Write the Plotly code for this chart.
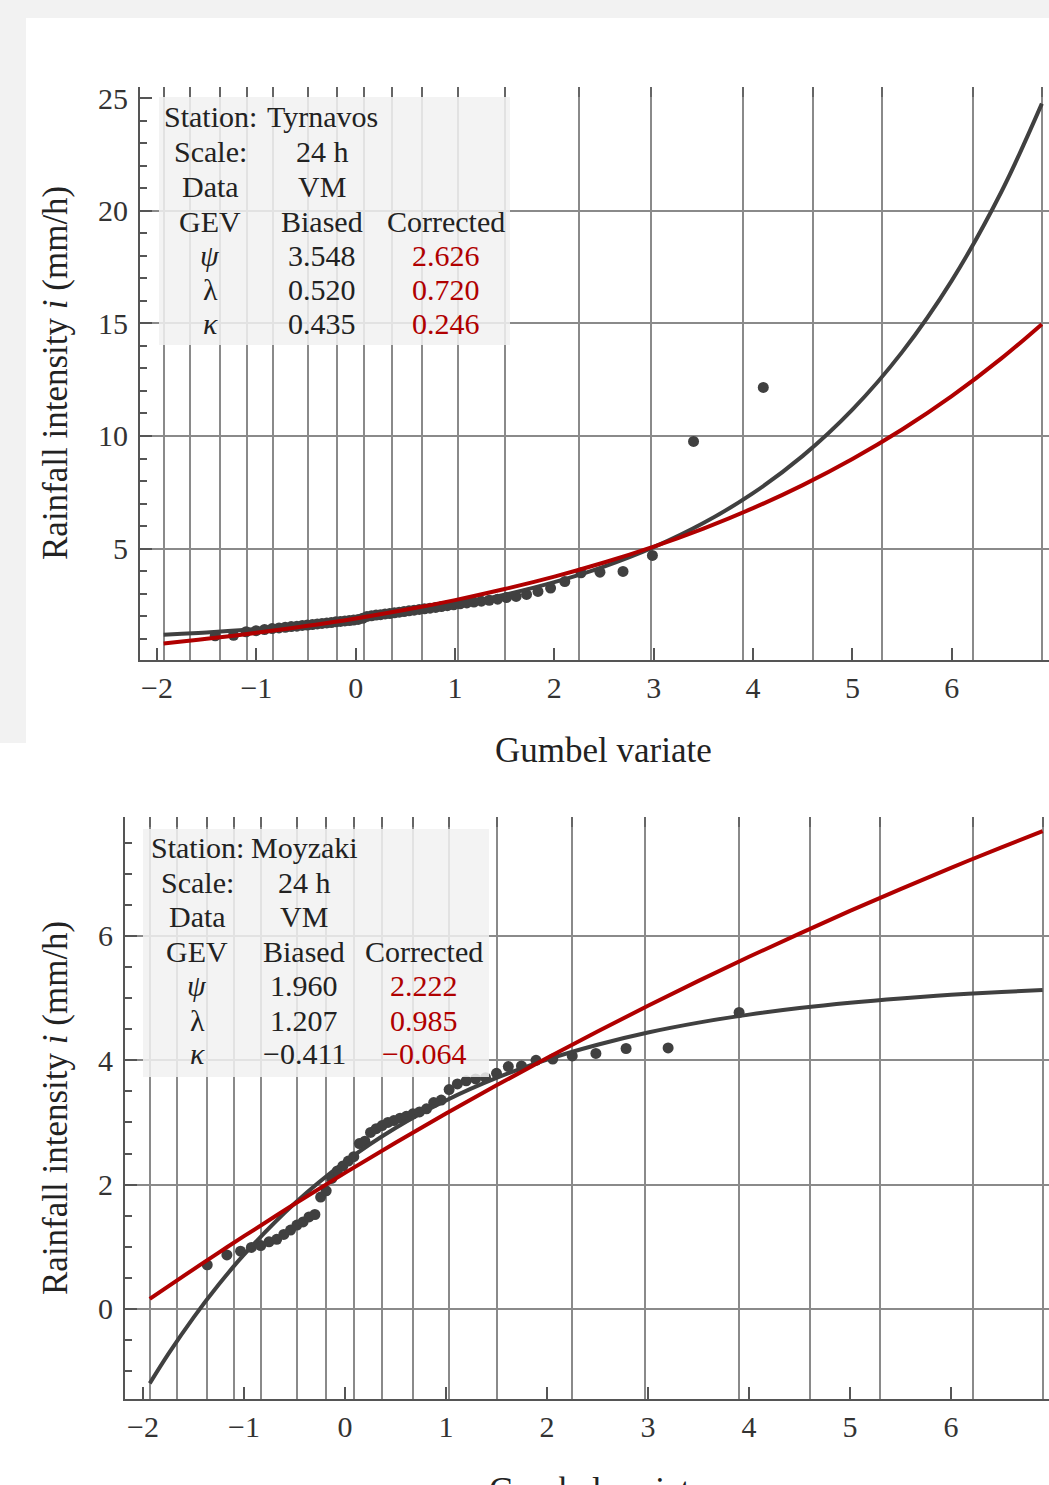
import plotly.graph_objects as go

W, H = 1049, 1485
FONT = "Liberation Serif, Times New Roman, serif"
DARK = "#404040"
RED = "#b00000"
TXT = "#222222"
GRID = "#8a8a8a"
AXC = "#555555"

# Gumbel-variate positions of the probability gridlines (F = 0.001 ... 0.999)
grid_gumbel = [-1.933, -1.667, -1.364, -1.097, -0.834, -0.476, -0.186, 0.087, 0.367,
               0.672, 1.031, 1.500, 2.250, 2.970, 3.902, 4.600, 5.296, 6.214, 6.907]
x_ticks = [-2, -1, 0, 1, 2, 3, 4, 5, 6]

# ---------------- Top panel: Tyrnavos ----------------
top_pts_x = [-1.414, -1.229, -1.103, -1.002, -0.917, -0.841, -0.772, -0.709, -0.649, -0.592,
             -0.538, -0.486, -0.436, -0.386, -0.339, -0.291, -0.245, -0.199, -0.154, -0.109,
             -0.064, -0.020, 0.025, 0.070, 0.114, 0.159, 0.205, 0.250, 0.296, 0.343,
             0.390, 0.438, 0.487, 0.537, 0.588, 0.640, 0.693, 0.748, 0.805, 0.863,
             0.923, 0.986, 1.051, 1.119, 1.190, 1.265, 1.344, 1.429, 1.518, 1.615,
             1.720, 1.835, 1.962, 2.105, 2.268, 2.459, 2.691, 2.987, 3.401, 4.103]
top_pts_y = [1.12, 1.14, 1.30, 1.35, 1.40, 1.44, 1.47, 1.50, 1.53, 1.55,
             1.58, 1.60, 1.62, 1.65, 1.67, 1.69, 1.71, 1.74, 1.76, 1.78,
             1.80, 1.82, 1.85, 1.90, 1.98, 2.01, 2.04, 2.06, 2.09, 2.11,
             2.14, 2.17, 2.20, 2.23, 2.26, 2.29, 2.32, 2.35, 2.38, 2.42,
             2.46, 2.50, 2.54, 2.58, 2.62, 2.66, 2.70, 2.75, 2.82, 2.87,
             2.96, 3.09, 3.24, 3.53, 3.92, 3.95, 3.98, 4.69, 9.76, 12.16]

curve_x = [-1.933, -1.75, -1.5, -1.25, -1.0, -0.5, 0.0, 0.5, 1.0, 1.5, 2.0, 2.5,
           3.0, 3.5, 4.0, 4.5, 5.0, 5.5, 6.0, 6.5, 6.907]
top_biased = [1.165, 1.208, 1.272, 1.344, 1.423, 1.611, 1.845, 2.135, 2.496, 2.945, 3.503, 4.196,
              5.058, 6.129, 7.460, 9.116, 11.172, 13.728, 16.906, 20.856, 24.77]
top_corrected = [0.783, 0.867, 0.987, 1.116, 1.252, 1.552, 1.891, 2.274, 2.707, 3.197, 3.751, 4.378,
                 5.086, 5.887, 6.793, 7.818, 8.977, 10.288, 11.770, 13.447, 14.971]

# ---------------- Bottom panel: Moyzaki ----------------
bot_pts_x = [-1.364, -1.169, -1.034, -0.927, -0.834, -0.752, -0.676, -0.606, -0.539, -0.476,
             -0.415, -0.356, -0.298, -0.241, -0.186, -0.131, -0.076, -0.021, 0.033, 0.087,
             0.142, 0.197, 0.253, 0.309, 0.367, 0.425, 0.484, 0.545, 0.607, 0.672,
             0.738, 0.807, 0.878, 0.953, 1.031, 1.113, 1.200, 1.293, 1.392, 1.500,
             1.617, 1.747, 1.891, 2.057, 2.250, 2.484, 2.783, 3.199, 3.902]
bot_pts_y = [0.71, 0.87, 0.93, 0.99, 1.02, 1.08, 1.12, 1.20, 1.27, 1.35,
             1.40, 1.48, 1.52, 1.80, 1.90, 2.10, 2.22, 2.30, 2.38, 2.45,
             2.66, 2.70, 2.84, 2.90, 2.95, 3.00, 3.03, 3.07, 3.10, 3.14,
             3.17, 3.22, 3.32, 3.36, 3.53, 3.62, 3.67, 3.70, 3.72, 3.79,
             3.90, 3.91, 4.00, 4.02, 4.07, 4.11, 4.19, 4.20, 4.77]
bot_biased = [-1.197, -0.726, -0.138, 0.393, 0.873, 1.696, 2.366, 2.911, 3.355, 3.717, 4.012, 4.251,
              4.447, 4.606, 4.735, 4.840, 4.926, 4.996, 5.053, 5.099, 5.131]
bot_corrected = [0.162, 0.365, 0.637, 0.907, 1.171, 1.688, 2.189, 2.673, 3.143, 3.597, 4.037, 4.464,
                 4.877, 5.278, 5.665, 6.039, 6.404, 6.755, 7.097, 7.426, 7.688]

# table contents
top_table = [["Station:", "Tyrnavos", ""], ["Scale:", "24 h", ""], ["Data", "VM", ""],
             ["GEV", "Biased", "Corrected"], ["<i>ψ</i>", "3.548", "2.626"],
             ["λ", "0.520", "0.720"], ["<i>κ</i>", "0.435", "0.246"]]
bot_table = [["Station:", "Moyzaki", ""], ["Scale:", "24 h", ""], ["Data", "VM", ""],
             ["GEV", "Biased", "Corrected"], ["<i>ψ</i>", "1.960", "2.222"],
             ["λ", "1.207", "0.985"], ["<i>κ</i>", "−0.411", "−0.064"]]


def fx(p):
    return p / W


def fy(p):
    return 1 - p / H


fig = go.Figure()

# points on the main axes, fitted curves on the overlaid (grid) axes so they sit above the points
for xa, ya, xo, yo, px_, py_, cb, cc in [
        ("x", "y", "x3", "y3", top_pts_x, top_pts_y, top_biased, top_corrected),
        ("x2", "y2", "x4", "y4", bot_pts_x, bot_pts_y, bot_biased, bot_corrected)]:
    fig.add_trace(go.Scatter(x=px_, y=py_, mode="markers", xaxis=xa, yaxis=ya,
                             marker=dict(size=11, color=DARK), showlegend=False))
    fig.add_trace(go.Scatter(x=curve_x, y=cb, mode="lines", xaxis=xo, yaxis=yo,
                             line=dict(color=DARK, width=4, shape="spline"), showlegend=False))
    fig.add_trace(go.Scatter(x=curve_x, y=cc, mode="lines", xaxis=xo, yaxis=yo,
                             line=dict(color=RED, width=4, shape="spline"), showlegend=False))

tickfont = dict(family=FONT, size=30, color="#333333")

# pixel geometry
top_dom_x = [fx(140), 1]
top_dom_y = [fy(659.5), fy(87)]
top_xr = [-2.171, 6.979]
top_yr = [0.067, 25.51]
bot_dom_x = [fx(125), 1]
bot_dom_y = [fy(1399), fy(817)]
bot_xr = [-2.178, 6.970]
bot_yr = [-1.448, 7.914]

common_x = dict(tickmode="array", tickvals=x_ticks, ticks="inside", ticklen=12, tickwidth=1.5,
                tickcolor=AXC, showline=True, linecolor=AXC, linewidth=2, showgrid=False,
                zeroline=False, tickfont=tickfont, automargin=False, ticklabelstandoff=0)
common_y = dict(tickmode="array", ticks="inside", ticklen=12, tickwidth=1.5,
                tickcolor=AXC, showline=True, linecolor=AXC, linewidth=2, showgrid=False,
                zeroline=False, tickfont=tickfont, automargin=False, ticklabelstandoff=4)
grid_x = dict(tickmode="array", tickvals=grid_gumbel, ticks="inside", ticklen=10, tickwidth=1.5,
              tickcolor="#666666", showticklabels=False, showgrid=True, gridcolor=GRID,
              gridwidth=1.5, showline=False, zeroline=False, side="top", automargin=False)
grid_y = dict(tickmode="array", ticks="", showticklabels=False, showgrid=True, gridcolor=GRID,
              gridwidth=1.5, showline=False, zeroline=False, side="right", automargin=False)

fig.update_layout(
    width=W, height=H,
    margin=dict(l=0, r=0, t=0, b=0),
    paper_bgcolor="#f2f2f2", plot_bgcolor="rgba(0,0,0,0)",
    xaxis=dict(domain=top_dom_x, anchor="y", range=top_xr, **common_x),
    yaxis=dict(domain=top_dom_y, anchor="x", range=top_yr, tickvals=[5, 10, 15, 20, 25],
               minor=dict(tickmode="array", tickvals=list(range(1, 26)), ticks="inside",
                          ticklen=7, tickwidth=1.5, tickcolor=AXC, showgrid=False),
               **common_y),
    xaxis2=dict(domain=bot_dom_x, anchor="y2", range=bot_xr, **common_x),
    yaxis2=dict(domain=bot_dom_y, anchor="x2", range=bot_yr, tickvals=[0, 2, 4, 6],
                minor=dict(tickmode="array", tickvals=[v / 2 for v in range(-2, 16)], ticks="inside",
                           ticklen=7, tickwidth=1.5, tickcolor=AXC, showgrid=False),
                **common_y),
    xaxis3=dict(overlaying="x", anchor="y3", range=top_xr, **grid_x),
    yaxis3=dict(overlaying="y", anchor="x3", range=top_yr, tickvals=[5, 10, 15, 20], **grid_y),
    xaxis4=dict(overlaying="x2", anchor="y4", range=bot_xr, **grid_x),
    yaxis4=dict(overlaying="y2", anchor="x4", range=bot_yr, tickvals=[0, 2, 4, 6], **grid_y),
)

# page panels
fig.add_shape(type="rect", xref="paper", yref="paper", x0=fx(26), x1=1, y0=fy(743), y1=fy(18),
              fillcolor="white", line_width=0, layer="below")
fig.add_shape(type="rect", xref="paper", yref="paper", x0=0, x1=1, y0=0, y1=fy(743),
              fillcolor="white", line_width=0, layer="below")

# table boxes (semi-transparent, gridlines show faintly through)
fig.add_shape(type="rect", xref="paper", yref="paper", x0=fx(159), x1=fx(510), y0=fy(345), y1=fy(97),
              fillcolor="rgba(241,241,241,0.86)", line_width=0, layer="above")
fig.add_shape(type="rect", xref="paper", yref="paper", x0=fx(143), x1=fx(489), y0=fy(1077), y1=fy(829),
              fillcolor="rgba(241,241,241,0.86)", line_width=0, layer="above")


def add_table(rows, col_px, row_px):
    for r, row in enumerate(rows):
        for c, txt in enumerate(row):
            if not txt:
                continue
            color = RED if (c == 2 and r >= 4) else TXT
            fig.add_annotation(x=fx(col_px[c]), y=fy(row_px[r]), xref="paper", yref="paper",
                               text=txt, showarrow=False, xanchor="center", yanchor="middle",
                               font=dict(family=FONT, size=30, color=color))


add_table(top_table, [210, 322, 446], [116, 151, 186, 221, 255, 289, 323])
add_table(bot_table, [197, 304, 424], [847, 882, 916, 951, 985, 1020, 1053])

# axis titles
title_font = dict(family=FONT, size=35, color=TXT)
for yc in (373, 1108):
    fig.add_annotation(x=fx(55), y=fy(yc), xref="paper", yref="paper",
                       text="Rainfall intensity <i>i</i> (mm/h)", textangle=-90, showarrow=False,
                       xanchor="center", yanchor="middle", font=title_font)
fig.add_annotation(x=fx(603), y=fy(750), xref="paper", yref="paper", text="Gumbel variate",
                   showarrow=False, xanchor="center", yanchor="middle", font=title_font)
fig.add_annotation(x=fx(597), y=fy(1490), xref="paper", yref="paper", text="Gumbel variate",
                   showarrow=False, xanchor="center", yanchor="middle", font=title_font)

fig.write_html("out.html", config={"displayModeBar": False},
               post_script="document.body.style.margin='0px';")
